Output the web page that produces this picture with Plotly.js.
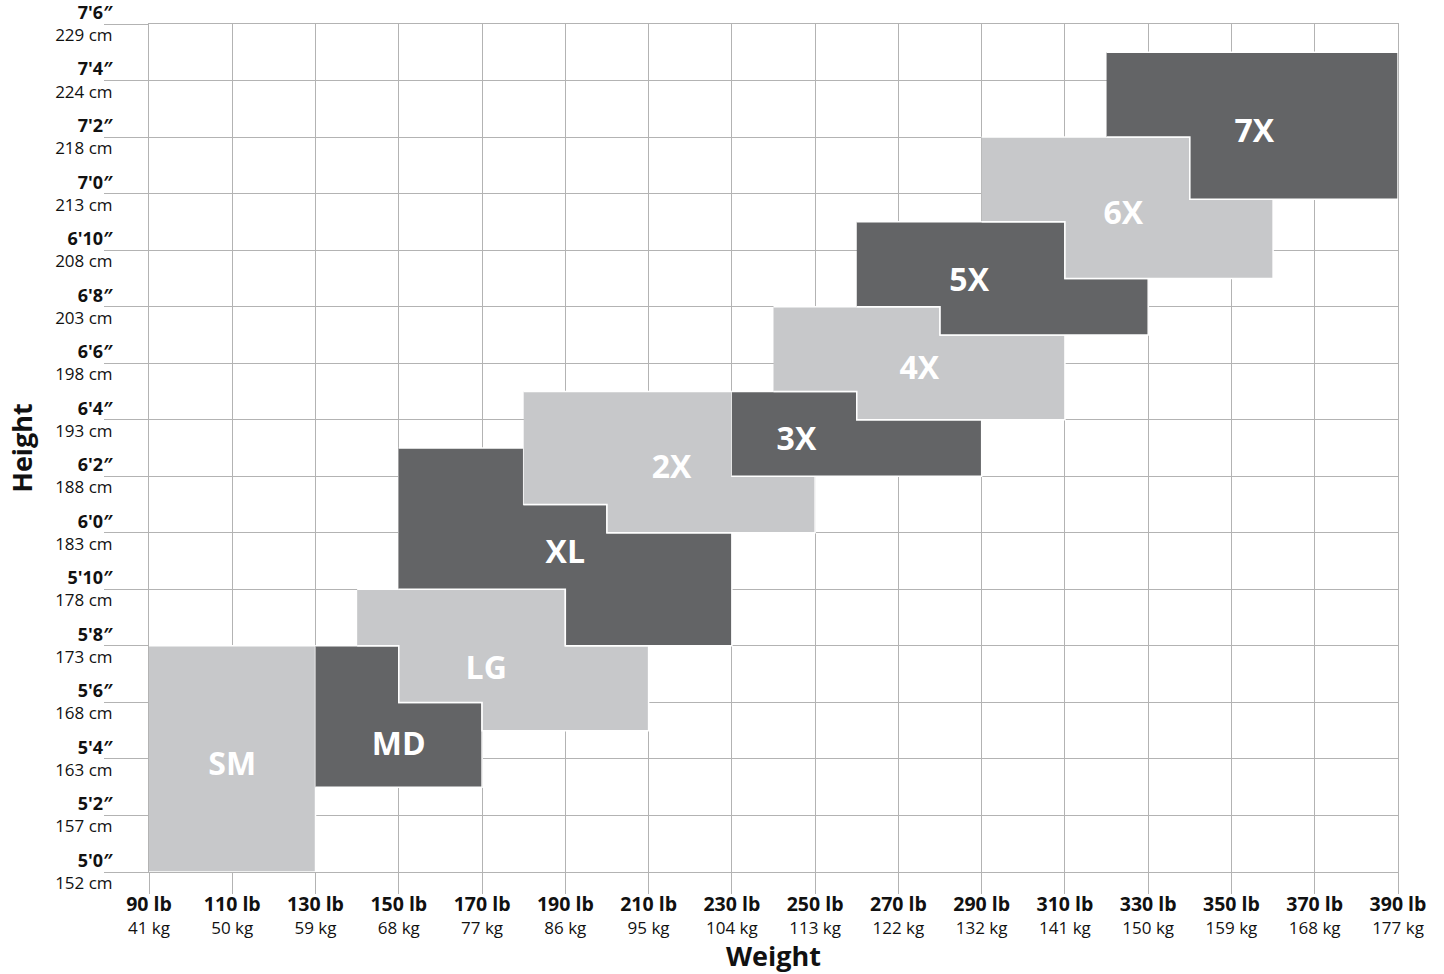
<!DOCTYPE html>
<html>
<head>
<meta charset="utf-8">
<script src="https://cdn.plot.ly/plotly-3.0.1.min.js"></script>
<style>
  html, body { margin: 0; padding: 0; background: #ffffff; }
  #chart { width: 1444px; height: 974px; }
</style>
</head>
<body>
<div id="chart"></div>
<script>
// ---- Tick data ----
const weightLb = [90, 110, 130, 150, 170, 190, 210, 230, 250, 270, 290, 310, 330, 350, 370, 390];
const weightKg = [41, 50, 59, 68, 77, 86, 95, 104, 113, 122, 132, 141, 150, 159, 168, 177];
const heightIn = [60, 62, 64, 66, 68, 70, 72, 74, 76, 78, 80, 82, 84, 86, 88, 90];
const heightFt = ["5'0″", "5'2″", "5'4″", "5'6″", "5'8″", "5'10″", "6'0″", "6'2″", "6'4″", "6'6″", "6'8″", "6'10″", "7'0″", "7'2″", "7'4″", "7'6″"];
const heightCm = [152, 157, 163, 168, 173, 178, 183, 188, 193, 198, 203, 208, 213, 218, 224, 229];

// ---- Size regions (outline vertices: weight in lb, height in inches) ----
const sizeNames = ["SM", "MD", "LG", "XL", "2X", "3X", "4X", "5X", "6X", "7X"];
const sizeTone  = ["light", "dark", "light", "dark", "light", "dark", "light", "dark", "light", "dark"];
const smLb = [90, 130, 130, 90];                              const smIn = [60, 60, 68, 68];
const mdLb = [130, 170, 170, 150, 150, 130];                  const mdIn = [63, 63, 66, 66, 68, 68];
const lgLb = [140, 190, 190, 210, 210, 170, 170, 150, 150, 140]; const lgIn = [70, 70, 68, 68, 65, 65, 66, 66, 68, 68];
const xlLb = [150, 190, 190, 230, 230, 200, 200, 180, 180, 150]; const xlIn = [70, 70, 68, 68, 72, 72, 73, 73, 75, 75];
const x2Lb = [180, 230, 230, 250, 250, 200, 200, 180];        const x2In = [77, 77, 74, 74, 72, 72, 73, 73];
const x3Lb = [230, 290, 290, 260, 260, 230];                  const x3In = [74, 74, 76, 76, 77, 77];
const x4Lb = [240, 280, 280, 310, 310, 260, 260, 240];        const x4In = [80, 80, 79, 79, 76, 76, 77, 77];
const x5Lb = [260, 280, 280, 330, 330, 310, 310, 260];        const x5In = [80, 80, 79, 79, 81, 81, 83, 83];
const x6Lb = [290, 340, 340, 360, 360, 310, 310, 290];        const x6In = [86, 86, 83.8, 83.8, 81, 81, 83, 83];
const x7Lb = [320, 390, 390, 340, 340, 320];                  const x7In = [89, 89, 83.8, 83.8, 86, 86];
const sizeLbs = [smLb, mdLb, lgLb, xlLb, x2Lb, x3Lb, x4Lb, x5Lb, x6Lb, x7Lb];
const sizeIns = [smIn, mdIn, lgIn, xlIn, x2In, x3In, x4In, x5In, x6In, x7In];

// label anchor points (lb, in)
const labelLb = [110, 150, 171, 190, 215.5, 245.5, 275, 287, 324, 355.5];
const labelIn = [63.72, 64.42, 67.12, 71.22, 74.22, 75.22, 77.72, 80.85, 83.22, 86.12];

// ---- Build ----
const colors = { light: "#c7c8ca", dark: "#636466" };
const FONT = "Open Sans, Noto Sans, sans-serif";
const traces = [];
sizeNames.forEach((name, i) => {
  traces.push({
    type: "scatter", mode: "lines",
    x: sizeLbs[i], y: sizeIns[i],
    fill: "toself", fillcolor: colors[sizeTone[i]],
    line: { color: "#ffffff", width: 1.5 },
    hoverinfo: "skip", showlegend: false, name: name
  });
});
traces.push({
  type: "scatter", mode: "text",
  x: labelLb, y: labelIn, text: sizeNames,
  textposition: "middle center",
  textfont: { family: FONT, size: 32, color: "#ffffff", weight: 700 },
  hoverinfo: "skip", showlegend: false
});

const xTickText = weightLb.map((lb, i) =>
  `<span style="font-size:19.5px"><b>${lb} lb</b></span><br>${weightKg[i]} kg`);
const yTickText = heightIn.map((h, i) =>
  `<span style="font-size:18px"><b>${heightFt[i]}</b></span><br>${heightCm[i]} cm`);

const gridColor = "#b3b3b3";
const layout = {
  width: 1444, height: 974,
  margin: { l: 149, r: 46, t: 24, b: 102 },
  paper_bgcolor: "#ffffff", plot_bgcolor: "#ffffff",
  font: { family: FONT, color: "#111111", size: 17 },
  showlegend: false,
  xaxis: {
    range: [90, 390], tickmode: "array", tickvals: weightLb, ticktext: xTickText,
    showgrid: true, gridcolor: gridColor, gridwidth: 1,
    showline: true, linecolor: gridColor, linewidth: 1, mirror: true,
    ticks: "outside", ticklen: 21, tickcolor: gridColor, tickwidth: 1,
    tickfont: { family: FONT, size: 17, color: "#111111" },
    ticklabelstandoff: -3, ticklabeloverflow: "allow",
    zeroline: false, fixedrange: true, layer: "below traces",
    title: { text: "<b>Weight</b>", font: { family: FONT, size: 27, color: "#111111" }, standoff: 0 },
    automargin: false
  },
  yaxis: {
    range: [60, 90], tickmode: "array", tickvals: heightIn, ticktext: yTickText,
    showgrid: true, gridcolor: gridColor, gridwidth: 1,
    showline: true, linecolor: gridColor, linewidth: 1, mirror: true,
    ticks: "outside", ticklen: 44, tickcolor: gridColor, tickwidth: 1,
    tickfont: { family: FONT, size: 17, color: "#111111" },
    ticklabelstandoff: -12, ticklabeloverflow: "allow",
    zeroline: false, fixedrange: true, layer: "below traces",
    title: { text: "<b>Height</b>", font: { family: FONT, size: 27, color: "#111111" }, standoff: 14 },
    automargin: false
  }
};

Plotly.newPlot("chart", traces, layout, { displayModeBar: false, staticPlot: true });
</script>
</body>
</html>
